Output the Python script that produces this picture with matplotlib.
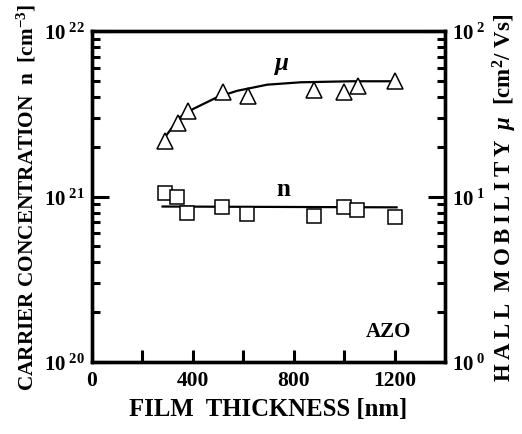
import numpy as np
import matplotlib.pyplot as plt
from matplotlib.ticker import LogLocator, NullFormatter, FixedLocator

plt.rcParams['font.family'] = ['Liberation Serif', 'DejaVu Serif']
plt.rcParams['font.weight'] = 'bold'
plt.rcParams['mathtext.fontset'] = 'custom'
plt.rcParams['mathtext.rm'] = 'Liberation Serif:bold'
plt.rcParams['mathtext.it'] = 'Liberation Serif:italic'
plt.rcParams['mathtext.bf'] = 'Liberation Serif:bold'

# carrier concentration n (left axis)
thick_n = [288, 338, 377, 517, 615, 881, 1001, 1052, 1201]
n_vals = [1.05e21, 1.0e21, 8.0e20, 8.6e20, 7.8e20, 7.6e20, 8.7e20, 8.3e20, 7.5e20]
fit_n_x = [280, 1208]
fit_n_y = [8.7e20, 8.6e20]

# Hall mobility mu (right axis)
thick_mu = [288, 341, 379, 521, 619, 881, 1001, 1055, 1201]
mu_vals = [21.7, 27.8, 33.0, 42.7, 40.6, 44.2, 42.7, 46.8, 49.7]
fit_mu_x = [292, 348, 401, 495, 575, 695, 828, 1028, 1208]
fit_mu_y = [23.1, 30.1, 33.8, 39.7, 43.5, 47.4, 49.0, 49.7, 49.7]

fig = plt.figure(figsize=(5.22, 4.35), dpi=100)
ax = fig.add_axes([0.1762, 0.1655, 0.6763, 0.7609])
ax2 = ax.twinx()

ax.plot(fit_n_x, fit_n_y, color='black', lw=1.6)
ax.plot(thick_n, n_vals, 's', ms=10, mfc='white', mec='black', mew=1.1)
ax2.plot(fit_mu_x, fit_mu_y, color='black', lw=1.6)
ax2.plot(thick_mu, mu_vals, '^', ms=11, mfc='white', mec='black', mew=1.1)

ax.set_xlim(0, 1400)
ax.set_yscale('log')
ax.set_ylim(1e20, 1e22)
ax2.set_yscale('log')
ax2.set_ylim(1, 100)

ax.xaxis.set_major_locator(FixedLocator([0, 400, 800, 1200]))
ax.xaxis.set_minor_locator(FixedLocator([200, 600, 1000]))
ax.set_xticklabels(['0', '400', '800', '1200'])

for a in (ax, ax2):
    a.yaxis.set_major_locator(LogLocator(base=10, numticks=10))
    a.yaxis.set_minor_locator(LogLocator(base=10, subs=np.arange(2, 10), numticks=10))
    a.yaxis.set_minor_formatter(NullFormatter())
    for s in a.spines.values():
        s.set_linewidth(2.4)

ax.set_yticks([1e20, 1e21, 1e22])
ax.set_yticklabels([r'$10^{\ 20}$', r'$10^{\ 21}$', r'$10^{\ 22}$'])
ax2.set_yticks([1, 10, 100])
ax2.set_yticklabels([r'$10^{\ 0}$', r'$10^{\ 1}$', r'$10^{\ 2}$'])

ax.tick_params(axis='x', which='both', direction='in', length=9, width=2.2,
               top=False, labelsize=15.5, pad=6)
ax.tick_params(axis='y', which='major', direction='in', length=12, width=2.2,
               labelsize=15, pad=5)
ax.tick_params(axis='y', which='minor', direction='in', length=6, width=2.2)
ax2.tick_params(axis='y', which='major', direction='in', length=12, width=2.2,
                labelsize=15, pad=5)
ax2.tick_params(axis='y', which='minor', direction='in', length=6, width=2.2)

ax.set_xlabel('FILM  THICKNESS [nm]', fontsize=17.8, fontweight='bold', labelpad=5)
ax.set_ylabel(r'CARRIER CONCENTRATION  n  [cm$^{-3}$]', fontsize=15.3,
              fontweight='bold', labelpad=4)
hall = '\u2009'.join('HALL') + '  ' + '\u2009'.join('MOBILITY')
ax2.set_ylabel(hall + r'  $\mu$  [cm$^{2}$/ Vs]', fontsize=16.5,
               fontweight='bold', rotation=90, labelpad=4)

ax.text(748, 6.3e21, r'$\mu$', fontsize=18, ha='center', va='center')
ax.text(760, 1.12e21, 'n', fontsize=18, fontweight='bold', ha='center', va='center')
ax.text(1176, 1.54e20, 'AZO', fontsize=15, fontweight='bold', ha='center', va='center')

fig.savefig('out.png', dpi=100)
